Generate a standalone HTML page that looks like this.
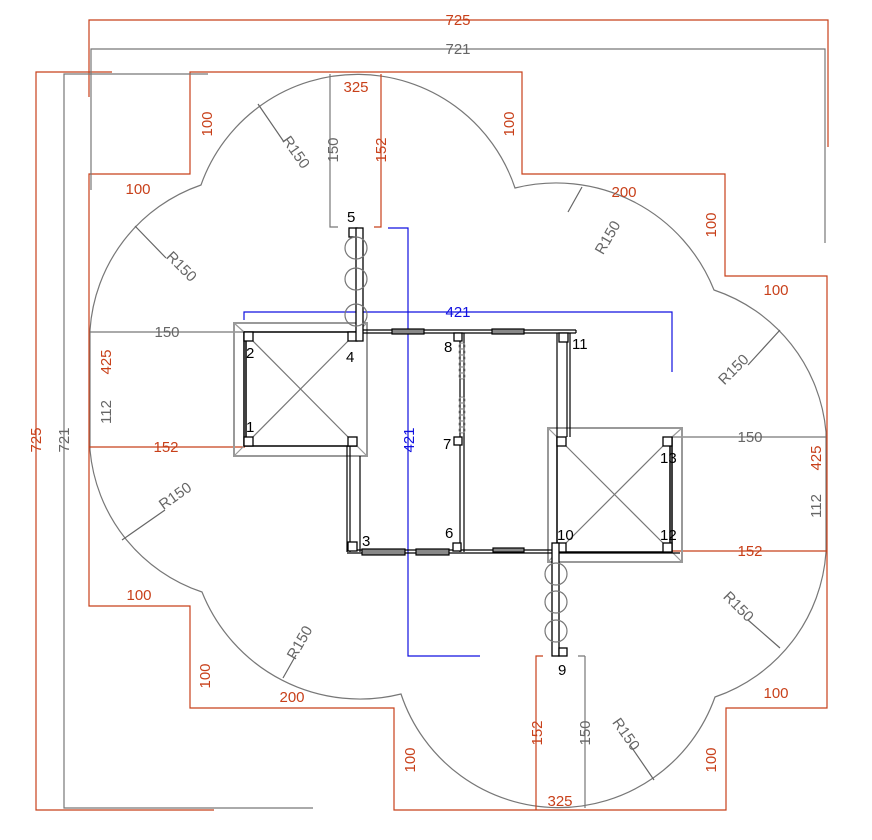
<!DOCTYPE html>
<html><head><meta charset="utf-8"><style>
html,body{margin:0;padding:0;background:#fff}
svg{display:block}
text{font-family:"Liberation Sans",sans-serif;font-size:15px}
.r{fill:#c8401a}.g{fill:#666}.b{fill:#1010e0}.k{fill:#000}
</style></head><body>
<svg width="872" height="840" viewBox="0 0 872 840" xmlns="http://www.w3.org/2000/svg">
<g fill="none" stroke-width="1.2">
<!-- cloud -->
<path stroke="#777" d="M201,185 A166,166 0 0 1 515,188 A170,170 0 0 1 714,290 A165,165 0 0 1 826,432 L826,552 A165,165 0 0 1 715,697 A166,166 0 0 1 401,694 A170,170 0 0 1 202,592 A165,165 0 0 1 90,450 L90,330 A165,165 0 0 1 201,185 Z"/>
<!-- red outline -->
<path stroke="#c8401a" d="M89,174 L190,174 L190,72 L522,72 L522,174 L725,174 L725,276 L827,276 L827,708 L726,708 L726,810 L394,810 L394,708 L190,708 L190,606 L89,606 Z"/>
<!-- 725 dims -->
<path stroke="#c8401a" d="M89,97 L89,20 L828,20 L828,147 M112,72 L36,72 L36,810 L214,810"/>
<path stroke="#777" d="M91,190 L91,49 L825,49 L825,243 M208,74 L64,74 L64,808 L313,808"/>
<!-- top 325 -->
<path stroke="#777" d="M330,74 L330,227 L338,227 M585,656 L585,808 M578,656 L585,656"/>
<path stroke="#c8401a" d="M381,74 L381,227 L374,227 M536,810 L536,656 L543,656"/>
<!-- left/right dims -->
<path stroke="#777" d="M90,332 L245,332 M672,437 L826,437"/>
<path stroke="#c8401a" d="M89,447 L245,447 M672,551 L827,551"/>
<!-- R150 leaders -->
<path stroke="#666" d="M258,104 L284,142 M135,226 L166,258 M780,330 L748,365 M780,648 L748,620 M654,780 L630,745 M283,678 L296,655 M122,540 L165,510 M582,187 L568,212"/>
<!-- blue dims -->
<path stroke="#1010e0" d="M388,228 L408,228 L408,656 L480,656 M244,320 L244,312 L672,312 L672,372"/>
<!-- left box -->
<path stroke="#999" stroke-width="2" d="M234,323 H367 V456 H234 Z"/>
<path stroke="#999" d="M234,323 L244,332 M367,323 L357,332 M234,456 L244,446 M367,456 L357,446"/>
<path stroke="#777" d="M244,332 L357,446 M357,332 L244,446"/>
<path stroke="#000" stroke-width="1.5" d="M244,332 V446 M246,332 V446 M244,446 H357 M244,332 H357"/>
<!-- right box -->
<path stroke="#999" stroke-width="2" d="M548,428 H682 V562 H548 Z"/>
<path stroke="#999" d="M548,428 L557,437 M682,428 L672,437 M548,562 L557,552 M682,562 L672,552"/>
<path stroke="#777" d="M557,437 L672,552 M672,437 L557,552"/>
<path stroke="#000" stroke-width="1.5" d="M672,437 V552 M670,437 V552 M557,552 H672 M557,437 V552"/>
<!-- walls -->
<path stroke="#000" d="M357,330 H576 M357,333 H576 M576,330 V333 M460,333 V552 M464,333 V552 M557,333 V437 M570,333 V437 M567,333 V437 M347,446 V552 M350,446 V552 M360,456 V552 M347,550 H557 M347,553 H557 M552,553 H680"/>
<!-- doors -->
<g stroke="#000" fill="#888"><rect x="392" y="329" width="32" height="5"/><rect x="492" y="329" width="32" height="5"/><rect x="362" y="549" width="43" height="6"/><rect x="416" y="549" width="33" height="6"/><rect x="493" y="548" width="31" height="4"/></g>
<!-- posts -->
<g stroke="#000" stroke-width="1.3" fill="#fff">
<rect x="244" y="332" width="9" height="9"/><rect x="348" y="332" width="9" height="9"/><rect x="244" y="437" width="9" height="9"/><rect x="348" y="437" width="9" height="9"/>
<rect x="454" y="333" width="8" height="8"/><rect x="454" y="437" width="8" height="8"/><rect x="453" y="543" width="8" height="8"/><rect x="348" y="542" width="9" height="9"/><rect x="559" y="333" width="9" height="9"/>
<rect x="557" y="437" width="9" height="9"/><rect x="663" y="437" width="9" height="9"/><rect x="557" y="543" width="9" height="9"/><rect x="663" y="543" width="9" height="9"/>
<rect x="349" y="228" width="8" height="9"/><rect x="356" y="228" width="7" height="113"/>
<rect x="552" y="543" width="7" height="113"/><rect x="559" y="648" width="8" height="8"/>
</g>
<g stroke="#777"><circle cx="356" cy="248" r="11"/><circle cx="356" cy="279" r="11"/><circle cx="356" cy="315" r="11"/><circle cx="556" cy="574" r="11"/><circle cx="556" cy="602" r="11"/><circle cx="556" cy="631" r="11"/></g>
<g stroke="#888" stroke-width="1"><circle cx="462" cy="346" r="3"/><circle cx="462" cy="352" r="3"/><circle cx="462" cy="358" r="3"/><circle cx="462" cy="364" r="3"/><circle cx="462" cy="370" r="3"/><circle cx="462" cy="376" r="3"/><circle cx="462" cy="400" r="3"/><circle cx="462" cy="406" r="3"/><circle cx="462" cy="412" r="3"/><circle cx="462" cy="418" r="3"/><circle cx="462" cy="424" r="3"/><circle cx="462" cy="430" r="3"/></g>
</g>
<!-- labels -->
<g text-anchor="middle">
<text class="r" x="458" y="25">725</text>
<text class="g" x="458" y="54">721</text>
<text class="r" x="356" y="92">325</text>
<text class="r" x="560" y="806">325</text>
<text class="g" x="167" y="337">150</text>
<text class="r" x="166" y="452">152</text>
<text class="g" x="750" y="442">150</text>
<text class="r" x="750" y="556">152</text>
<text class="b" x="458" y="317">421</text>
<text class="r" x="138" y="194">100</text>
<text class="r" x="776" y="295">100</text>
<text class="r" x="139" y="600">100</text>
<text class="r" x="776" y="698">100</text>
<text class="r" x="624" y="197">200</text>
<text class="r" x="292" y="702">200</text>
<text class="r" transform="translate(41,440) rotate(-90)">725</text>
<text class="g" transform="translate(69,440) rotate(-90)">721</text>
<text class="g" transform="translate(338,150) rotate(-90)">150</text>
<text class="r" transform="translate(386,150) rotate(-90)">152</text>
<text class="r" transform="translate(542,733) rotate(-90)">152</text>
<text class="g" transform="translate(590,733) rotate(-90)">150</text>
<text class="r" transform="translate(111,362) rotate(-90)">425</text>
<text class="g" transform="translate(111,412) rotate(-90)">112</text>
<text class="r" transform="translate(821,458) rotate(-90)">425</text>
<text class="g" transform="translate(821,506) rotate(-90)">112</text>
<text class="b" transform="translate(414,440) rotate(-90)">421</text>
<text class="r" transform="translate(212,124) rotate(-90)">100</text>
<text class="r" transform="translate(514,124) rotate(-90)">100</text>
<text class="r" transform="translate(716,225) rotate(-90)">100</text>
<text class="r" transform="translate(210,676) rotate(-90)">100</text>
<text class="r" transform="translate(415,760) rotate(-90)">100</text>
<text class="r" transform="translate(716,760) rotate(-90)">100</text>
<text class="g" font-size="13" transform="translate(292,155) rotate(55)">R150</text>
<text class="g" font-size="13" transform="translate(178,270) rotate(45)">R150</text>
<text class="g" font-size="13" transform="translate(737,373) rotate(-45)">R150</text>
<text class="g" font-size="13" transform="translate(735,610) rotate(45)">R150</text>
<text class="g" font-size="13" transform="translate(622,737) rotate(55)">R150</text>
<text class="g" font-size="13" transform="translate(304,645) rotate(-60)">R150</text>
<text class="g" font-size="13" transform="translate(178,500) rotate(-35)">R150</text>
<text class="g" font-size="13" transform="translate(612,240) rotate(-60)">R150</text>
</g>
<g font-size="14">
<text class="k" x="246" y="358">2</text>
<text class="k" x="346" y="362">4</text>
<text class="k" x="246" y="432">1</text>
<text class="k" x="347" y="222">5</text>
<text class="k" x="444" y="352">8</text>
<text class="k" x="443" y="449">7</text>
<text class="k" x="445" y="538">6</text>
<text class="k" x="362" y="546">3</text>
<text class="k" x="572" y="349">11</text>
<text class="k" x="660" y="463">13</text>
<text class="k" x="557" y="540">10</text>
<text class="k" x="660" y="540">12</text>
<text class="k" x="558" y="675">9</text>
</g>
</svg>
</body></html>
